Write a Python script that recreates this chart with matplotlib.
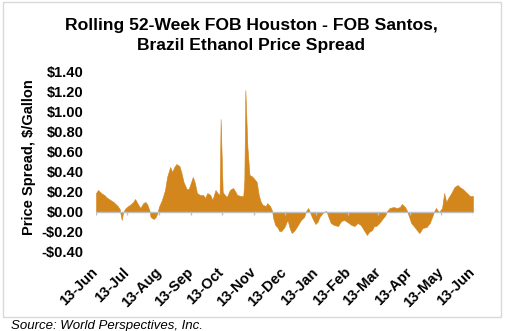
import numpy as np
import pandas as pd
import matplotlib
matplotlib.use("Agg")
import matplotlib.pyplot as plt
from matplotlib.patches import Rectangle

plt.rcParams["font.family"] = ["Liberation Sans", "DejaVu Sans"]

# Rolling 52-week window: days since the start date and the FOB Houston - FOB Santos spread ($/gal)
start_date = "2015-06-13"
day_offset = [
    0, 2, 5, 8, 11, 14, 17, 21, 23, 24, 25, 26, 28, 30, 34, 36, 38, 40, 43, 46,
    48, 50, 52, 53, 56, 58, 60, 61, 64, 67, 69, 72, 74, 76, 78, 81, 83, 85, 88, 90,
    93, 94, 96, 98, 101, 104, 106, 108, 111, 113, 116, 118, 120, 121, 123, 125, 127, 130, 133, 135,
    137, 141, 143, 144, 145, 147, 149, 151, 153, 156, 158, 160, 162, 165, 166, 169, 171, 172, 174, 176,
    178, 180, 183, 185, 186, 188, 190, 193, 196, 199, 202, 204, 206, 208, 210, 213, 215, 217, 220, 223,
    224, 226, 228, 231, 235, 238, 241, 244, 248, 251, 254, 257, 260, 263, 265, 268, 270, 272, 275, 278,
    281, 282, 285, 289, 292, 295, 297, 300, 302, 304, 306, 310, 313, 314, 317, 321, 324, 327, 328, 330,
    332, 333, 336, 338, 340, 342, 345, 348, 351, 353, 356, 360, 363, 366,
]
spread = [
    0.19, 0.22, 0.19, 0.17, 0.14, 0.12, 0.10, 0.06, 0.03, -0.03, -0.08, -0.02, 0.03, 0.05, 0.08, 0.10, 0.13, 0.09, 0.04, 0.09,
    0.10, 0.07, 0.01, -0.05, -0.07, -0.05, 0.00, 0.05, 0.12, 0.22, 0.35, 0.45, 0.40, 0.45, 0.48, 0.46, 0.39, 0.30, 0.23, 0.23,
    0.32, 0.35, 0.29, 0.19, 0.17, 0.17, 0.14, 0.19, 0.17, 0.12, 0.22, 0.19, 0.17, 0.93, 0.20, 0.17, 0.15, 0.22, 0.24, 0.21,
    0.17, 0.16, 0.16, 0.32, 1.22, 0.65, 0.37, 0.36, 0.34, 0.30, 0.17, 0.10, 0.07, 0.06, 0.09, 0.06, 0.01, -0.06, -0.13, -0.15,
    -0.19, -0.19, -0.15, -0.10, -0.08, -0.16, -0.21, -0.18, -0.13, -0.08, -0.05, 0.01, 0.04, -0.01, -0.06, -0.12, -0.10, -0.05, -0.01, 0.01,
    0.00, -0.06, -0.11, -0.13, -0.14, -0.09, -0.08, -0.10, -0.13, -0.14, -0.11, -0.13, -0.18, -0.23, -0.20, -0.18, -0.14, -0.14, -0.11, -0.07,
    -0.03, 0.00, 0.04, 0.05, 0.04, 0.05, 0.08, 0.05, 0.01, -0.05, -0.11, -0.16, -0.20, -0.21, -0.16, -0.15, -0.11, -0.03, 0.00, 0.04,
    0.01, 0.00, 0.04, 0.19, 0.10, 0.14, 0.19, 0.25, 0.27, 0.25, 0.23, 0.19, 0.16, 0.16,
]

y_ticks = [-0.40, -0.20, 0.00, 0.20, 0.40, 0.60, 0.80, 1.00, 1.20, 1.40]
month_labels = ["13-Jun", "13-Jul", "13-Aug", "13-Sep", "13-Oct", "13-Nov", "13-Dec",
                "13-Jan", "13-Feb", "13-Mar", "13-Apr", "13-May", "13-Jun"]

dates = pd.Timestamp(start_date) + pd.to_timedelta(day_offset, unit="D")
month_ticks = pd.date_range(start_date, periods=len(month_labels), freq=pd.DateOffset(months=1))

fill_color = "#D3861B"
axis_grey = "#BFBFBF"

fig = plt.figure(figsize=(5.05, 3.31), dpi=100)
W, H = 505, 331

# outer chart frame
fig.patches.append(Rectangle((2.5 / W, 1 - 317 / H), 498 / W, 315 / H,
                             transform=fig.transFigure, fill=False,
                             edgecolor="#D9D9D9", linewidth=1.0))

ax = fig.add_axes([96 / W, 1 - 252 / H, 377 / W, 180 / H])
ax.fill_between(dates, 0, spread, color=fill_color, linewidth=0.4, edgecolor=fill_color)

ax.set_xlim(month_ticks[0], month_ticks[-1])
ax.set_ylim(-0.40, 1.40)

# zero line with small downward tick marks at each month
ax.axhline(0, color=axis_grey, linewidth=1.0, zorder=3)
ax.vlines(month_ticks, -0.03, 0, color=axis_grey, linewidth=1.0, zorder=3)

for s in ax.spines.values():
    s.set_visible(False)

ax.set_yticks(y_ticks)
ax.set_yticklabels([("-$%.2f" % abs(v)) if v < 0 else ("$%.2f" % v) for v in y_ticks],
                   fontsize=10.5, fontweight="bold")
ax.tick_params(axis="y", length=0, pad=9)

ax.set_xticks(month_ticks)
ax.set_xticklabels(month_labels, fontsize=10.5, fontweight="bold",
                   rotation=45, ha="right", va="center", rotation_mode="anchor")
ax.tick_params(axis="x", length=0, pad=13)

fig.text(251 / W, 1 - 30 / H, "Rolling 52-Week FOB Houston - FOB Santos,",
         ha="center", va="baseline", fontsize=12.6, fontweight="bold")
fig.text(251 / W, 1 - 50 / H, "Brazil Ethanol Price Spread",
         ha="center", va="baseline", fontsize=12.6, fontweight="bold")

fig.text(29 / W, 1 - 157 / H, "Price Spread, $/Gallon", rotation=90,
         ha="center", va="center", fontsize=10.5, fontweight="bold")

fig.text(11 / W, 1 - 329 / H, "Source: World Perspectives, Inc.",
         ha="left", va="baseline", fontsize=9.5, style="italic")

fig.savefig("out.png", dpi=100)
